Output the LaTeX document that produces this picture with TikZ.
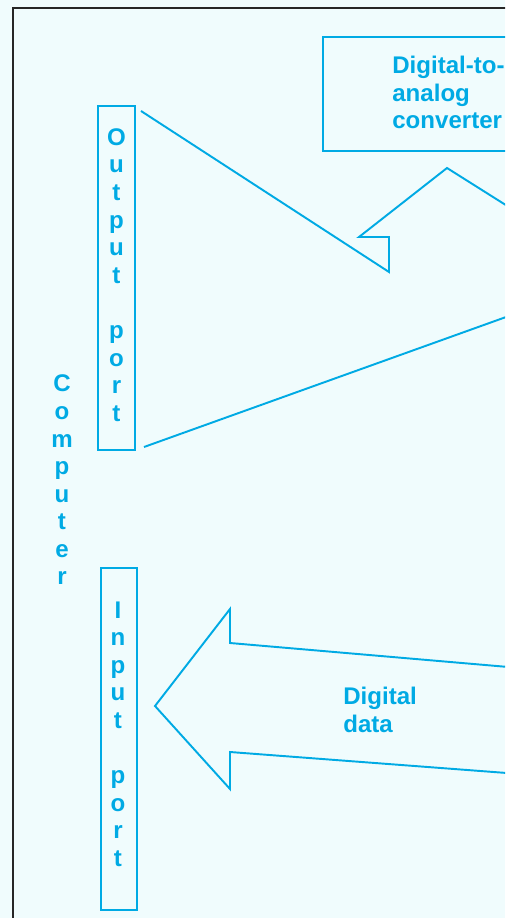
\documentclass[tikz,border=0pt]{standalone}
\usepackage{fontspec}
\setmainfont{Liberation Sans}
\definecolor{inkblue}{RGB}{0,170,228}
\definecolor{paper}{RGB}{240,252,253}
\tikzset{
    lbl/.style={font=\bfseries\fontsize{13.7pt}{15.7pt}\selectfont,
                text=inkblue, inner sep=0pt},
    port/.style={draw=inkblue, line width=1.1pt},
    outline/.style={draw=inkblue, line width=1.1pt},
    frame/.style={draw=black!85, line width=1.4pt},
}

\begin{document}
\begin{tikzpicture}[x=0.02cm, y=-0.02cm]

    \useasboundingbox (0,0) rectangle (505,918);
    \fill[paper] (0,0) rectangle (505,918);
    \clip (0,0) rectangle (505,918);
    \draw[frame] (13,920) -- (13,8) -- (520,8);

    \node[lbl, align=center] (computer) at (62,480) {C\\o\\m\\p\\u\\t\\e\\r};

    \node[port, minimum width=0.74cm, minimum height=6.88cm] (outport) at (116.5,278) {};
    \node[lbl, align=center] (outtext) at (116.5,275)
        {O\\u\\t\\p\\u\\t\\[15.7pt]p\\o\\r\\t};
    \node[port, minimum width=0.72cm, minimum height=6.84cm] (inport) at (119,739) {};
    \node[lbl, align=center] (intext) at (118,734)
        {I\\n\\p\\u\\t\\[15.7pt]p\\o\\r\\t};

    \node[outline, anchor=north west, minimum width=4cm, minimum height=2.28cm] (dac) at (322,36) {};
    \node[lbl, align=left, anchor=north west] (dactext) at (392,56) {Digital-to-\\analog\\converter};
    \node[lbl, align=left, anchor=north west] (data) at (343,687) {Digital\\data};

    % output arrow
    \draw[outline] (141,111) -- (389,272) -- (389,237) -- (359,237) -- (447,168) -- (520,214);
    \draw[outline] (144,447) -- (520,312);
    % input arrow
    \draw[outline] (520,668) -- (230,643) -- (230,609) -- (155,706) -- (230,789) -- (230,752) -- (520,774);

\end{tikzpicture}
\end{document}
